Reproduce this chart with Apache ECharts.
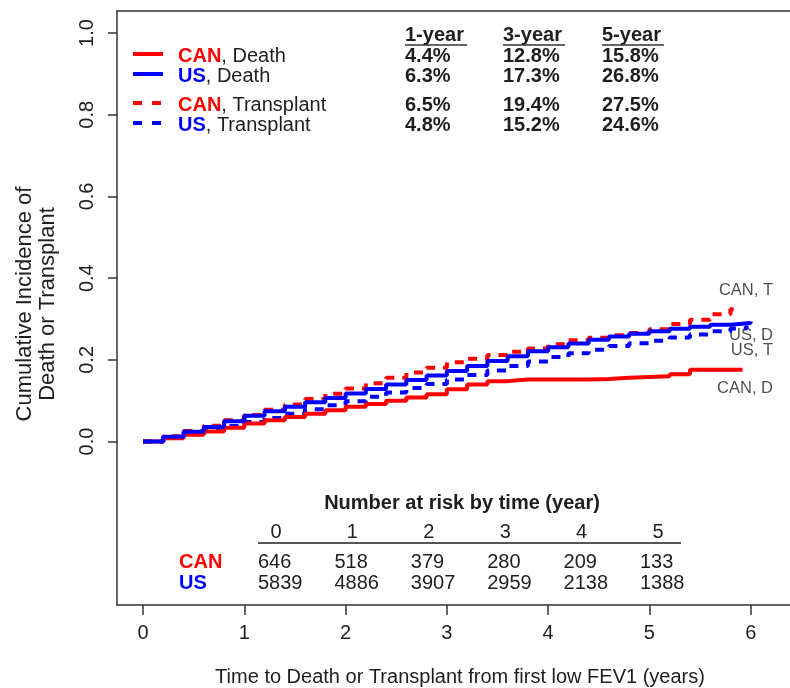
<!DOCTYPE html>
<html>
<head>
<meta charset="utf-8">
<script src="https://cdn.jsdelivr.net/npm/echarts@6/dist/echarts.min.js"></script>
<style>
  html, body { margin: 0; padding: 0; background: #fff; }
  #chart { width: 790px; height: 688px; }
</style>
</head>
<body>
<div id="chart"></div>
<script>
  // time grid (years) and cumulative incidence
  const years = [0, 0.2, 0.4, 0.6, 0.8, 1.0, 1.2, 1.4, 1.6, 1.8, 2.0, 2.2, 2.4, 2.6, 2.8,
                 3.0, 3.2, 3.4, 3.6, 3.8, 4.0, 4.2, 4.4, 4.6, 4.8, 5.0, 5.2, 5.4, 5.6, 5.8]
  const canDeath = [0, .008, .017, .025, .034, .044, .052, .060, .068, .077, .085, .092, .100, .108, .116,
                    .128, .140, .148, .152, .152, .152, .152, .153, .156, .158, .160, .165, .176, .176, .176]
  const usDeath = [0, .012, .024, .036, .050, .063, .074, .085, .096, .107, .118, .129, .140, .151, .162,
                   .173, .185, .197, .209, .221, .231, .240, .249, .257, .264, .270, .276, .281, .286, .290]
  const canTrans = [0, .013, .026, .039, .052, .065, .078, .091, .104, .117, .130, .143, .156, .169, .181,
                    .194, .203, .212, .220, .228, .238, .248, .254, .260, .266, .275, .288, .298, .312, .324]
  const usTrans = [0, .010, .019, .029, .038, .048, .058, .068, .079, .089, .099, .110, .120, .131, .141,
                   .152, .163, .174, .185, .196, .207, .216, .225, .234, .241, .247, .255, .262, .270, .277]
  // last point of each curve [time, value]
  const canDeathEnd = [5.92, .176]
  const usDeathEnd = [6.0, .294]
  const canTransEnd = [5.85, .324]
  const usTransEnd = [5.96, .284]

  // labels at the right end of the curves
  const endLabels = ['CAN, T', 'US, D', 'US, T', 'CAN, D']
  const endLabelY = [0.371, 0.261, 0.224, 0.131]

  const xTicks = [0, 1, 2, 3, 4, 5, 6]
  const yTicks = [0, 0.2, 0.4, 0.6, 0.8, 1.0]

  // summary table
  const tableHeads = ['1-year', '3-year', '5-year']
  const legendNames = [['CAN', ', Death'], ['US', ', Death'], ['CAN', ', Transplant'], ['US', ', Transplant']]
  const tableRows = [
    ['4.4%', '12.8%', '15.8%'],
    ['6.3%', '17.3%', '26.8%'],
    ['6.5%', '19.4%', '27.5%'],
    ['4.8%', '15.2%', '24.6%']
  ]

  // number at risk
  const riskYears = ['0', '1', '2', '3', '4', '5']
  const riskCAN = ['646', '518', '379', '280', '209', '133']
  const riskUS = ['5839', '4886', '3907', '2959', '2138', '1388']

  const RED = '#ff0000'
  const BLUE = '#0000ff'
  const INK = '#1e1e1e'
  const FRAME = '#333'
  const FONT = '"Liberation Sans", Arial, sans-serif'
  const X_MIN = -0.257
  const X_MAX = 6.388

  function pairs (vals, end) {
    let out = []
    for (let i = 0; i < vals.length; i++) {
      out.push([years[i], vals[i]])
    }
    out.push(end)
    return out
  }

  function curve (name, vals, end, color, dashed) {
    return {
      name: name,
      type: 'line',
      step: 'end',
      showSymbol: false,
      silent: true,
      lineStyle: { color: color, width: 4, type: dashed ? [9, 8] : 'solid', cap: 'butt' },
      data: pairs(vals, end)
    }
  }

  // legend + summary table + risk table as graphic elements
  let graphics = []
  const legendColors = [RED, BLUE, RED, BLUE]
  const legendDash = [false, false, true, true]
  const rowY = [56, 76, 105, 125]
  const colX = [405, 503, 602]

  for (let i = 0; i < 4; i++) {
    graphics.push({
      type: 'line',
      shape: { x1: 133, y1: rowY[i] - 2, x2: 163, y2: rowY[i] - 2 },
      style: { stroke: legendColors[i], lineWidth: 4, lineDash: legendDash[i] ? [9, 10] : null }
    })
    graphics.push({
      type: 'text',
      x: 178, y: rowY[i],
      style: {
        text: '{k|' + legendNames[i][0] + '}{n|' + legendNames[i][1] + '}',
        verticalAlign: 'middle',
        rich: {
          k: { fontFamily: FONT, fontSize: 20, fontWeight: 'bold', fill: legendColors[i] },
          n: { fontFamily: FONT, fontSize: 20, fill: INK }
        }
      }
    })
    for (let j = 0; j < 3; j++) {
      graphics.push({
        type: 'text',
        x: colX[j], y: rowY[i],
        style: { text: tableRows[i][j], font: 'bold 20px ' + FONT, fill: INK, verticalAlign: 'middle' }
      })
    }
  }
  for (let j = 0; j < 3; j++) {
    graphics.push({
      type: 'text',
      x: colX[j], y: 35,
      style: { text: tableHeads[j], font: 'bold 20px ' + FONT, fill: INK, verticalAlign: 'middle' }
    })
    graphics.push({
      type: 'line',
      shape: { x1: colX[j], y1: 45, x2: colX[j] + 62, y2: 45 },
      style: { stroke: FRAME, lineWidth: 1.5 }
    })
  }

  graphics.push({
    type: 'text',
    x: 462, y: 503,
    style: { text: 'Number at risk by time (year)', font: 'bold 20px ' + FONT, fill: INK, align: 'center', verticalAlign: 'middle' }
  })
  graphics.push({
    type: 'line',
    shape: { x1: 258, y1: 543, x2: 681, y2: 543 },
    style: { stroke: '#555', lineWidth: 2 }
  })
  graphics.push({
    type: 'text', x: 179, y: 562,
    style: { text: 'CAN', font: 'bold 20px ' + FONT, fill: RED, verticalAlign: 'middle' }
  })
  graphics.push({
    type: 'text', x: 179, y: 583,
    style: { text: 'US', font: 'bold 20px ' + FONT, fill: BLUE, verticalAlign: 'middle' }
  })
  for (let i = 0; i < riskYears.length; i++) {
    let left = 258 + i * 76.4
    graphics.push({
      type: 'text', x: left + 18, y: 532,
      style: { text: riskYears[i], font: '20px ' + FONT, fill: INK, align: 'center', verticalAlign: 'middle' }
    })
    graphics.push({
      type: 'text', x: left, y: 562,
      style: { text: riskCAN[i], font: '20px ' + FONT, fill: INK, verticalAlign: 'middle' }
    })
    graphics.push({
      type: 'text', x: left, y: 583,
      style: { text: riskUS[i], font: '20px ' + FONT, fill: INK, verticalAlign: 'middle' }
    })
  }

  // axis titles
  graphics.push({
    type: 'text',
    x: 36, y: 304,
    rotation: Math.PI / 2,
    style: {
      text: 'Cumulative Incidence of\nDeath or Transplant',
      font: '22px ' + FONT, fill: INK, align: 'center', verticalAlign: 'middle', lineHeight: 23
    }
  })
  graphics.push({
    type: 'text',
    x: 460, y: 677,
    style: { text: 'Time to Death or Transplant from first low FEV1 (years)', font: '20px ' + FONT, fill: INK, align: 'center', verticalAlign: 'middle' }
  })

  let labelData = []
  for (let i = 0; i < endLabels.length; i++) {
    labelData.push({ value: [6.22, endLabelY[i]], name: endLabels[i] })
  }

  let myChart = echarts.init(document.getElementById('chart'), null, { renderer: 'canvas' })
  let option = {
    animation: false,
    backgroundColor: '#fff',
    grid: { left: 117, top: 11, right: 0, height: 594 },
    xAxis: [
      {
        type: 'value',
        position: 'bottom',
        min: X_MIN, max: X_MAX,
        axisLine: { show: true, onZero: false, lineStyle: { color: FRAME, width: 1.5 } },
        splitLine: { show: false },
        axisTick: { show: true, customValues: xTicks, length: 10, lineStyle: { color: FRAME, width: 1.5 } },
        axisLabel: { customValues: xTicks, fontSize: 20, fontFamily: FONT, color: INK, margin: 18 }
      },
      {
        // top edge of the plot box
        type: 'value',
        position: 'top',
        min: X_MIN, max: X_MAX,
        axisLine: { show: true, onZero: false, lineStyle: { color: FRAME, width: 1.5 } },
        axisTick: { show: false },
        axisLabel: { show: false },
        splitLine: { show: false }
      }
    ],
    yAxis: {
      type: 'value',
      min: -0.4, max: 1.054,
      axisLine: { show: true, onZero: false, lineStyle: { color: FRAME, width: 1.5 } },
      splitLine: { show: false },
      axisTick: { show: true, customValues: yTicks, length: 9, lineStyle: { color: FRAME, width: 1.5 } },
      axisLabel: {
        customValues: yTicks, rotate: 90, fontSize: 20, fontFamily: FONT, color: INK, margin: 20,
        formatter: function (v) { return v.toFixed(1) }
      }
    },
    series: [
      curve('CAN, Transplant', canTrans, canTransEnd, RED, true),
      curve('US, Transplant', usTrans, usTransEnd, BLUE, true),
      curve('CAN, Death', canDeath, canDeathEnd, RED, false),
      curve('US, Death', usDeath, usDeathEnd, BLUE, false),
      {
        type: 'scatter',
        symbolSize: 0,
        silent: true,
        label: {
          show: true, position: 'left', distance: 0, formatter: '{b}',
          fontSize: 16.5, fontFamily: FONT, color: INK
        },
        data: labelData
      }
    ],
    graphic: graphics
  }
  myChart.setOption(option)
</script>
</body>
</html>
